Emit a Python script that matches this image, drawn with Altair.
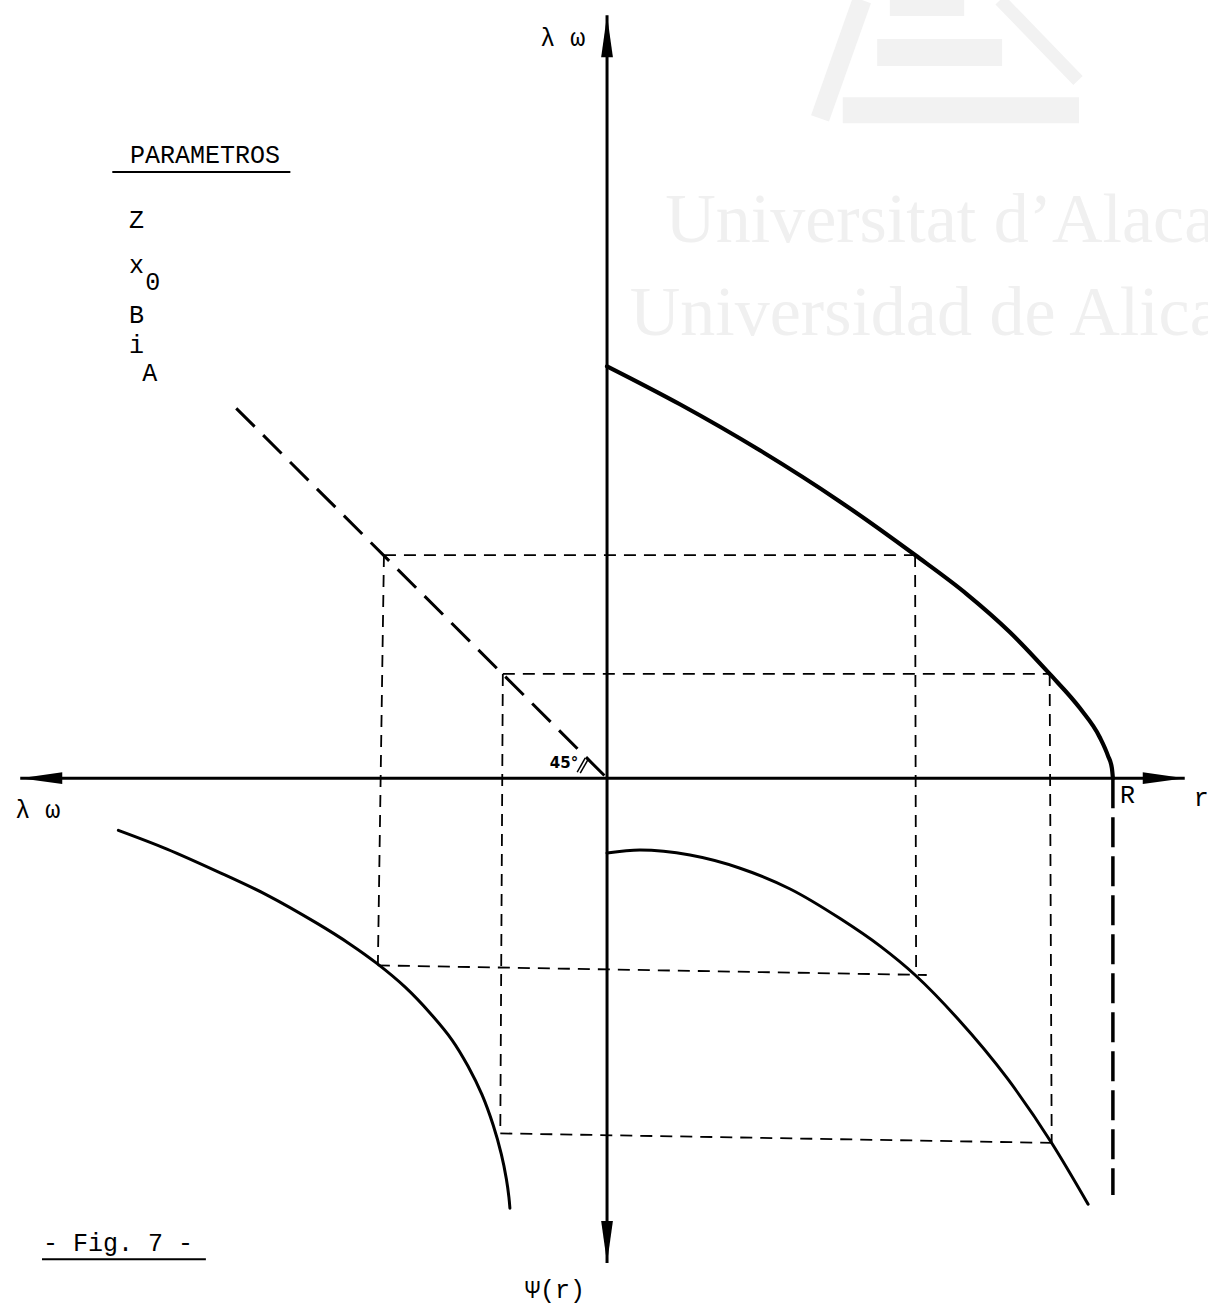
import altair as alt
import pandas as pd

# Coordinates are in radial units: r = 10 at the outer radius R,
# the same unit is used on the λω and Ψ directions.

# λω(r) – upper right quadrant
lam_r = [0.0, 1.44, 3.02, 4.60, 6.09, 7.11, 7.96, 8.75, 9.35, 9.74, 9.90, 9.98, 10.0]
lam_w = [8.14, 7.39, 6.48, 5.47, 4.41, 3.64, 2.89, 2.06, 1.38, 0.81, 0.45, 0.20, 0.0]

# Ψ(r) – lower right quadrant
psi_r = [0.0, 0.65, 1.64, 2.63, 3.62, 4.60, 5.40, 6.09, 6.92, 7.91, 8.79, 9.51]
psi_v = [-1.48, -1.42, -1.52, -1.78, -2.19, -2.77, -3.32, -3.89, -4.74, -5.93, -7.21, -8.42]

# Ψ(λω) – lower left quadrant
psl_w = [-9.66, -8.70, -7.71, -6.72, -5.73, -5.08, -4.55, -3.99, -3.50, -3.06,
         -2.75, -2.47, -2.25, -2.09, -1.99, -1.94, -1.92]
psl_v = [-1.03, -1.40, -1.84, -2.31, -2.87, -3.28, -3.66, -4.13, -4.64, -5.18,
         -5.69, -6.26, -6.86, -7.43, -7.92, -8.28, -8.50]

# construction (projection) lines
con_x0 = [-4.41, -2.06, -4.41, -2.06, 6.09, 8.75, -4.53, -2.11]
con_y0 = [4.41, 2.06, 4.41, 2.06, 4.41, 2.06, -3.70, -7.02]
con_x1 = [6.09, 8.75, -4.53, -2.11, 6.11, 8.79, 6.32, 8.91]
con_y1 = [4.41, 2.06, -3.70, -7.02, -3.89, -7.21, -3.89, -7.21]

# 45° transfer line
diag_x = [-7.33, 0.0]
diag_y = [7.31, 0.0]

# vertical at r = R below the axis
rline_x = [10.0, 10.0]
rline_y = [0.0, -8.24]

# axes and arrow tips
axis_x0 = [-11.60, 0.0]
axis_y0 = [0.0, 15.08]
axis_x1 = [11.42, 0.0]
axis_y1 = [0.0, -9.58]
tip_x = [0.0, 0.0, -11.60, 11.42]
tip_y = [15.08, -9.58, 0.0, 0.0]
tip_angle = [0, 180, 270, 90]

# angle marks at the 45° corner
arc_x0 = [-0.59, -0.53]
arc_y0 = [0.12, 0.10]
arc_x1 = [-0.43, -0.38]
arc_y1 = [0.40, 0.36]

# typewritten labels
lab_text = ["PARAMETROS", "Z", "x", "0", "B", "i", "A",
            "λ ω", "λ ω", "R", "r", "Ψ(r)", "- Fig. 7 -"]
lab_x = [-9.43, -9.45, -9.45, -9.13, -9.45, -9.45, -9.19,
         -1.32, -11.70, 10.14, 11.60, -1.62, -11.15]
lab_y = [12.31, 11.03, 10.14, 9.80, 9.15, 8.56, 8.00,
         14.62, -0.63, -0.34, -0.40, -10.12, -9.19]

# underlines of the heading and the caption
ul_x0 = [-9.78, -11.17]
ul_x1 = [-6.26, -7.93]
ul_y = [11.98, -9.51]

# library stamp: emblem strokes (centre lines and widths) and lettering
emb_x0 = [5.04, 5.59, 5.34, 4.66, 7.77]
emb_y0 = [15.38, 15.22, 14.34, 13.20, 15.38]
emb_x1 = [4.21, 7.06, 7.81, 9.33, 9.31]
emb_y1 = [13.04, 15.22, 14.34, 13.20, 13.79]
emb_w = [19, 16, 27, 26, 13]
wm_text = ["Universitat d\u2019Alacant", "Universidad de Alicante"]
wm_x = [1.15, 0.45]
wm_y = [10.59, 8.75]

XS = alt.Scale(domain=[-12.0, 11.88], nice=False, zero=False)
YS = alt.Scale(domain=[-10.59, 15.38], nice=False, zero=False)


def xe(f):
    return alt.X(f, type="quantitative", scale=XS, axis=None)


def ye(f):
    return alt.Y(f, type="quantitative", scale=YS, axis=None)


def segments(x0, y0, x1, y1, **mark):
    df = pd.DataFrame({"x": x0, "y": y0, "x2": x1, "y2": y1})
    return alt.Chart(df).mark_rule(color="black", **mark).encode(
        x=xe("x"), y=ye("y"), x2="x2", y2="y2")


def curve(xs, ys, width, interp):
    df = pd.DataFrame({"x": xs, "y": ys, "i": list(range(len(xs)))})
    return alt.Chart(df).mark_line(
        color="black", strokeWidth=width, interpolate=interp,
        strokeCap="round", strokeJoin="round").encode(
        x=xe("x"), y=ye("y"), order="i:Q")


emblem = alt.Chart(pd.DataFrame({"x": emb_x0, "y": emb_y0, "x2": emb_x1,
                                 "y2": emb_y1, "w": emb_w})).mark_rule(
    color="#f2f2f2", strokeCap="butt").encode(
    x=xe("x"), y=ye("y"), x2="x2", y2="y2",
    strokeWidth=alt.StrokeWidth("w:Q", scale=None, legend=None))

watermark = alt.Chart(pd.DataFrame({"t": wm_text, "x": wm_x, "y": wm_y})).mark_text(
    align="left", baseline="alphabetic", font="Liberation Serif",
    fontSize=70, color="#f0f0f0").encode(x=xe("x"), y=ye("y"), text="t:N")

axes = segments(axis_x0, axis_y0, axis_x1, axis_y1, strokeWidth=3)

arrows = alt.Chart(pd.DataFrame({"x": tip_x, "y": tip_y, "a": tip_angle})).mark_point(
    shape="M0,0L0.28,2L-0.28,2Z", filled=True, size=1764, color="black",
    opacity=1, strokeWidth=0).encode(
    x=xe("x"), y=ye("y"), angle=alt.Angle("a:Q", scale=None))

construction = segments(con_x0, con_y0, con_x1, con_y1,
                        strokeWidth=1.8, strokeDash=[12, 8])
diagonal = segments([diag_x[0]], [diag_y[0]], [diag_x[1]], [diag_y[1]],
                    strokeWidth=3, strokeDash=[26, 12])
r_line = segments([rline_x[0]], [rline_y[0]], [rline_x[1]], [rline_y[1]],
                  strokeWidth=3.5, strokeDash=[30, 9])
arcs = segments(arc_x0, arc_y0, arc_x1, arc_y1, strokeWidth=1.5)
underlines = segments(ul_x0, ul_y, ul_x1, ul_y, strokeWidth=2)

upper = curve(lam_r, lam_w, 4.2, "monotone")
lower_right = curve(psi_r, psi_v, 3, "monotone")
lower_left = curve(psl_w, psl_v, 3, "catmull-rom")

labels = alt.Chart(pd.DataFrame({"t": lab_text, "x": lab_x, "y": lab_y})).mark_text(
    align="left", baseline="middle", font="Liberation Mono",
    fontSize=25, color="black").encode(x=xe("x"), y=ye("y"), text="t:N")

angle_label = alt.Chart(pd.DataFrame({"t": ["45°"], "x": [-1.13], "y": [0.30]})).mark_text(
    align="left", baseline="middle", font="DejaVu Sans", fontWeight="bold",
    fontSize=15, color="black").encode(x=xe("x"), y=ye("y"), text="t:N")

chart = alt.layer(
    emblem, watermark, construction, diagonal, r_line, axes, arrows, arcs,
    upper, lower_right, lower_left, labels, angle_label, underlines
).properties(
    width=1208, height=1314, padding=0,
    autosize=alt.AutoSizeParams(type="none"),
    background="white"
).configure_view(stroke=None)

chart.save("out.html", embed_options={"renderer": "svg", "actions": False})
